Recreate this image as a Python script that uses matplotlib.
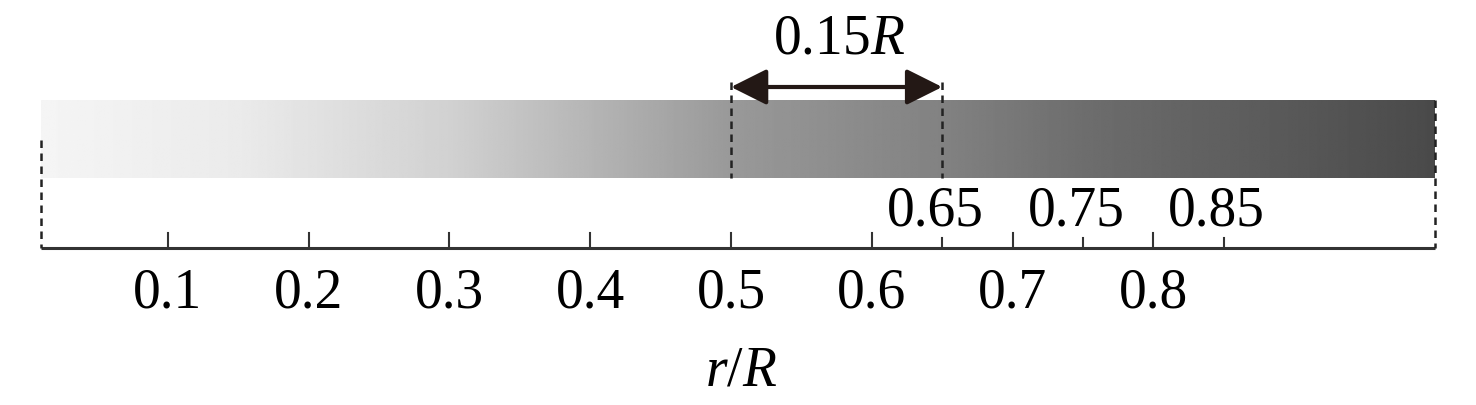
import numpy as np
import matplotlib
matplotlib.use("Agg")
import matplotlib.pyplot as plt

# ---- data ----
major_ticks = [0.1, 0.2, 0.3, 0.4, 0.5, 0.6, 0.7, 0.8]
major_labels = ["0.1", "0.2", "0.3", "0.4", "0.5", "0.6", "0.7", "0.8"]
minor_ticks = [0.65, 0.75, 0.85]
minor_labels = ["0.65", "0.75", "0.85"]
bar_range = [0.01, 1.0]
span = [0.5, 0.65]
span_label = "0.15"
axis_label = "r/R"

plt.rcParams['font.family'] = ['Liberation Serif', 'DejaVu Serif']
plt.rcParams['mathtext.fontset'] = 'custom'
plt.rcParams['mathtext.rm'] = 'Liberation Serif'
plt.rcParams['mathtext.it'] = 'Liberation Serif:italic'

W, H = 1476, 405
fig = plt.figure(figsize=(W / 100, H / 100), dpi=100)
ax = fig.add_axes([0, 0, 1, 1])
ax.set_xlim(-27 / 1408, 1 + (W - 1435) / 1408)
ax.set_ylim(H, 0)
ax.axis('off')

dark = '#231815'
FS = 40

# gradient bar (grey-level stops along r/R, styling only)
stop_pos = [0.01, 0.15, 0.3, 0.5, 0.65, 0.75, 1.0]
stop_gray = [0.96, 0.92, 0.82, 0.60, 0.51, 0.43, 0.29]
xs = np.linspace(bar_range[0], bar_range[1], 800)
grad = np.interp(xs, stop_pos, stop_gray)[None, :]
ax.imshow(grad, cmap='gray', vmin=0, vmax=1, aspect='auto',
          extent=[bar_range[0], bar_range[1], 178, 100], interpolation='bilinear', zorder=1)

# axis line
ax.plot([bar_range[0], bar_range[1]], [248, 248], color='#333333', lw=2.2, solid_capstyle='butt', zorder=3)

# major ticks (upward)
for t, lab in zip(major_ticks, major_labels):
    ax.plot([t, t], [248, 233], color='#333333', lw=1.5, zorder=3)
    ax.text(t, 294, lab, ha='center', va='center', fontsize=FS, color='black')

# minor ticks
for t, lab in zip(minor_ticks, minor_labels):
    ax.plot([t, t], [248, 238], color='#333333', lw=1.5, zorder=3)
    ax.text(t - 0.005, 211, lab, ha='center', va='center', fontsize=FS, color='black')

# dashed boundary lines
dash = dict(color='#222222', lw=1.8, ls=(0, (3, 2.2)), zorder=4)
ax.plot([bar_range[0]] * 2, [140, 248], **dash)
ax.plot([bar_range[1]] * 2, [100, 248], **dash)
for s in span:
    ax.plot([s, s], [82, 178], **dash)

# double arrow
ax.annotate('', xy=(span[1], 87), xytext=(span[0], 87),
            arrowprops=dict(arrowstyle='<|-|>,head_length=2.2,head_width=1.1',
                            color=dark, lw=3, shrinkA=0, shrinkB=0), zorder=5)
ax.text((span[0] + span[1]) / 2 + 0.002, 40, span_label + r"$\it{R}$", ha='center', va='center',
        fontsize=FS, color='black')

# axis label
ax.text(0.5 + 0.007, 372, r"$\it{r}$/$\it{R}$", ha='center', va='center', fontsize=FS, color='black')

fig.savefig('out.png', dpi=100)
